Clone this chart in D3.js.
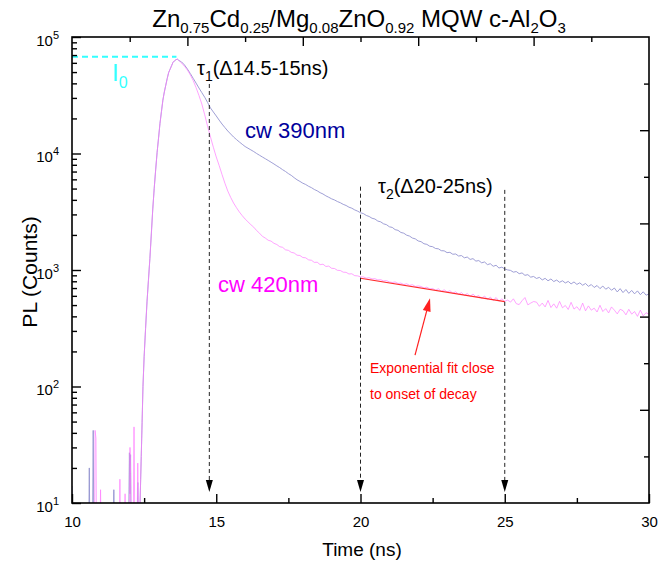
<!DOCTYPE html>
<html><head><meta charset="utf-8">
<script src="https://cdn.jsdelivr.net/npm/d3@7"></script>
<style>body{margin:0;background:#fff} text{font-family:"Liberation Sans",Arial,sans-serif}</style>
</head><body><svg id="c" width="660" height="575"></svg>
<script>
// ---------------- data ----------------
const riseTime = [12.36,12.38,12.40,12.43,12.46,12.50,12.55,12.60,12.65,12.70,12.75,12.80,12.85,12.90,12.95,13.00,13.05,13.10,13.15,13.20,13.25,13.30,13.35,13.40,13.45,13.50,13.55,13.60,13.65];
const riseValues = [10,16,25,49,100,180,314,532,818,1256,2040,3340,5030,7240,10190,13600,18150,22850,28700,33700,38500,44000,49500,52900,56600,60500,62400,63700,64600];
const tailStart = 13.7, tailStep = 0.1;
const blueTail = [63000,61000,57500,53100,48600,44200,40200,36500,33300,30400,27400,24600,22700,21000,
19350,17900,16700,15600,14700,13860,13180,12560,12000,11480,
11100,10740,10390,10000,9660,9330,9020,8720,8420,8130,
7830,7560,7260,7010,6720,6490,6200,5950,5760,5560,
5420,5230,5090,4910,4780,4610,4490,4330,4210,4080,
3990,3870,3780,3660,3580,3460,3390,3280,3200,3100,
3050,2940,2880,2780,2740,2630,2590,2490,2450,2350,
2320,2220,2190,2100,2070,1990,1955,1880,1850,1775,
1750,1680,1660,1600,1585,1530,1520,1465,1460,1410,
1418,1365,1372,1318,1330,1272,1292,1232,1252,1192,
1205,1152,1172,1112,1132,1076,1098,1040,1058,1020,
1002,992,958,970,930,944,900,912,868,880,
846,864,822,848,808,838,796,820,784,808,
774,798,760,790,752,776,740,766,724,750,
708,736,692,728,684,710,670,700,648,692,
640,680,630,668,624,662,614,650,608,624];
const pinkTail = [63000,59800,56000,52100,47300,42300,36800,31500,26600,21500,17100,13870,11300,9330,
7900,6600,5560,4760,4200,3760,3430,3150,2930,2740,
2590,2450,2330,2180,2070,1945,1880,1800,1770,1695,
1655,1585,1565,1490,1475,1418,1400,1340,1332,1280,
1272,1222,1212,1162,1166,1112,1122,1072,1080,1034,
1030,994,990,958,955,924,928,894,890,874,
872,851,858,838,842,822,826,806,812,790,
781,790,766,772,750,762,738,748,722,730,
722,700,712,688,694,670,690,655,676,648,
664,632,650,618,640,606,628,594,622,588,
604,570,598,560,586,548,580,540,566,538,
552,530,566,514,505,545,580,502,520,536,
530,488,520,482,548,476,512,470,538,474,
496,458,528,462,484,450,520,446,492,452,
470,436,498,440,466,428,482,452,420,460,
448,412,460,418,440,400,452,404,430,416];
const bluePreTime = [10.00,10.03,10.58,10.60,10.62,10.71,10.735,10.76,11.42,11.45,11.48,11.96,11.99,12.01,12.03,12.05,12.25,12.28,12.31,12.34];
const bluePreValues = [14,5,5,20,5,5,42,5,5,13,5,5,27,12,26,5,5,15,5,5];
const pinkPreTime = [10.00,10.78,10.80,10.83,10.85,10.97,10.99,11.01,11.64,11.66,11.68,11.82,11.84,11.86,11.99,12.01,12.03,12.05,12.12,12.15,12.18,12.25,12.28,12.31,12.34];
const pinkPreValues = [5,5,42,36,5,5,13,5,5,16,5,5,12,5,5,30,18,5,5,45,5,5,22,5,5];
const fitTime = [20, 25];
const fitValues = [850, 535];
const arrowTimes = [14.76, 20, 25];
const arrowTopValues = [39500, 5190, 4870];
const arrowBottomValue = 12.4;
const i0Value = 67700;
const i0Times = [10, 13.62];
const redArrowTimes = [21.89, 22.41];
const redArrowValues = [186, 571];
const xTickValues = [10,12.5,15,17.5,20,22.5,25,27.5,30];
const xTickLabels = [10,15,20,25,30];
const yMajorTicks = [10,100,1000,10000,100000];
const yTickLabelExp = ["1","2","3","4","5"];

// ---------------- setup ----------------
const svg = d3.select('#c');
const L=72,R=649,T=37,B=503;
const x = d3.scaleLinear().domain([10,30]).range([L,R]);
const y = d3.scaleLog().domain([10,1e5]).range([B,T]);
svg.append('clipPath').attr('id','clip').append('rect').attr('x',L).attr('y',T).attr('width',R-L).attr('height',B-T);

const tailTimes = blueTail.map((_,i)=>+(tailStart+i*tailStep).toFixed(2));
const bluePts = bluePreTime.map((t,i)=>[t,bluePreValues[i]])
  .concat(riseTime.map((t,i)=>[t,riseValues[i]]))
  .concat(tailTimes.map((t,i)=>[t,blueTail[i]]));
const pinkPts = pinkPreTime.map((t,i)=>[t,pinkPreValues[i]])
  .concat(riseTime.map((t,i)=>[t,riseValues[i]]))
  .concat(tailTimes.map((t,i)=>[t,pinkTail[i]]));
const line = d3.line().x(d=>x(d[0])).y(d=>y(d[1]));

const plot = svg.append('g').attr('clip-path','url(#clip)');
plot.append('path').datum(bluePts).attr('d',line).attr('fill','none').attr('stroke','#9494d0').attr('stroke-width',0.9);
plot.append('path').datum(pinkPts).attr('d',line).attr('fill','none').attr('stroke','#ff80ff').attr('stroke-width',0.9).attr('stroke-opacity',0.8);

// fit line
plot.append('path').datum(fitTime.map((t,i)=>[t,fitValues[i]])).attr('d',line).attr('fill','none').attr('stroke','#ff2a2a').attr('stroke-width',1.2);

// I0 dashed
svg.append('line').attr('x1',x(i0Times[0])).attr('x2',x(i0Times[1])).attr('y1',y(i0Value)).attr('y2',y(i0Value))
  .attr('stroke','#33ffff').attr('stroke-width',2).attr('stroke-dasharray','6,4');

// dashed arrows
arrowTimes.forEach((t,i)=>{
  const xx = x(t), y1 = y(arrowTopValues[i]), y2 = y(arrowBottomValue);
  svg.append('line').attr('x1',xx).attr('x2',xx).attr('y1',y1).attr('y2',y2-10)
    .attr('stroke','#222').attr('stroke-width',1).attr('stroke-dasharray','4,3');
  svg.append('path').attr('d',`M${xx-3.5},${y2-12}L${xx+3.5},${y2-12}L${xx},${y2}Z`).attr('fill','#000');
});

// red arrow
{
  const x1=x(redArrowTimes[0]), y1=y(redArrowValues[0]), x2=x(redArrowTimes[1]), y2=y(redArrowValues[1]);
  const a=Math.atan2(y2-y1,x2-x1), hl=13, hw=4;
  const bx=x2-hl*Math.cos(a), by=y2-hl*Math.sin(a);
  svg.append('line').attr('x1',x1).attr('y1',y1).attr('x2',bx).attr('y2',by).attr('stroke','#ff2020').attr('stroke-width',1.2);
  svg.append('path').attr('d',`M${x2},${y2}L${bx-hw*Math.sin(a)},${by+hw*Math.cos(a)}L${bx+hw*Math.sin(a)},${by-hw*Math.cos(a)}Z`).attr('fill','#ff2020');
}

// ---------------- axes ----------------
const axisStyle = g=>{ g.select('.domain').remove(); g.selectAll('line').attr('stroke','#000').attr('stroke-width',1.4); };
const gy = svg.append('g').attr('transform',`translate(${L},0)`)
  .call(d3.axisLeft(y).tickValues(y.ticks()).tickSizeOuter(0).tickSizeInner(-5).tickPadding(13)
    .tickFormat(d=> yMajorTicks.includes(d) ? "10" : ""));
gy.call(axisStyle);
gy.selectAll('.tick').filter(d=>yMajorTicks.includes(d)).select('line').attr('x2',9);
gy.selectAll('text').attr('font-size',15).attr('fill','#000').attr('dy',null).attr('y',8)
  .each(function(d){ const k=yMajorTicks.indexOf(d); if(k>=0){ d3.select(this).append('tspan').attr('dy',-7).attr('font-size',11).text(yTickLabelExp[k]); }});
const gx = svg.append('g').attr('transform',`translate(0,${B})`)
  .call(d3.axisBottom(x).tickValues(xTickValues).tickSizeOuter(0).tickSizeInner(-5).tickPadding(13)
    .tickFormat(d=> xTickLabels.includes(d) ? String(d) : ""));
gx.call(axisStyle);
gx.selectAll('.tick').filter(d=>xTickLabels.includes(d)).select('line').attr('y2',-9);
gx.selectAll('text').attr('font-size',15).attr('fill','#000');
const xt = d3.scaleLinear().domain([0,10]).range([L,R]);
const gt = svg.append('g').attr('transform',`translate(0,${T})`)
  .call(d3.axisTop(xt).tickValues(d3.range(1,10)).tickSizeOuter(0).tickSizeInner(-5).tickFormat(''));
gt.call(axisStyle);
gt.selectAll('.tick').filter(d=>d%2===0).select('line').attr('y2',9);
const yr = d3.scaleLinear().domain([0,10]).range([B,T]);
const gr = svg.append('g').attr('transform',`translate(${R},0)`)
  .call(d3.axisRight(yr).tickValues(d3.range(1,10)).tickSizeOuter(0).tickSizeInner(-5).tickFormat(''));
gr.call(axisStyle);
gr.selectAll('.tick').filter(d=>d%2===0).select('line').attr('x2',-9);
svg.append('rect').attr('x',L).attr('y',T).attr('width',R-L).attr('height',B-T).attr('fill','none').attr('stroke','#000').attr('stroke-width',1.6);

// ---------------- text ----------------
function rich(x0,y0,segs,size,subSize,shift,fill,anchor){
  const t = svg.append('text').attr('x',x0).attr('y',y0).attr('font-size',size).attr('fill',fill).attr('text-anchor',anchor||'start');
  let cur=0;
  segs.forEach(s=>{
    const sp=t.append('tspan').text(s[0]);
    const want = s[1]?shift:0;
    if(want!==cur){ sp.attr('dy',want-cur); cur=want; }
    sp.attr('font-size', s[1]?subSize:size);
  });
  return t;
}
rich(359,27,[["Zn"],["0.75",1],["Cd"],["0.25",1],["/Mg"],["0.08",1],["ZnO"],["0.92",1],[" MQW c-Al"],["2",1],["O"],["3",1]],24,15,6,'#000','middle');
rich(197,75,[["τ"],["1",1],["(Δ14.5-15ns)"]],20,14,6,'#000');
rich(378,193,[["τ"],["2",1],["(Δ20-25ns)"]],20,14,6,'#000');
rich(112,81,[["I"],["0",1]],24,16,7,'#33ffff');
svg.append('text').attr('x',245).attr('y',138).attr('font-size',22).attr('fill','#00009c').text('cw 390nm');
svg.append('text').attr('x',218).attr('y',292).attr('font-size',22).attr('fill','#ff00ff').text('cw 420nm');
svg.append('text').attr('x',370).attr('y',373).attr('font-size',14).attr('fill','#ff0000').text('Exponential fit close');
svg.append('text').attr('x',370).attr('y',399).attr('font-size',14).attr('fill','#ff0000').text('to onset of decay');
svg.append('text').attr('x',362).attr('y',556).attr('font-size',19).attr('text-anchor','middle').attr('fill','#000').text('Time (ns)');
svg.append('text').attr('transform','translate(37,272) rotate(-90)').attr('font-size',21).attr('text-anchor','middle').attr('fill','#000').text('PL (Counts)');
</script></body></html>
